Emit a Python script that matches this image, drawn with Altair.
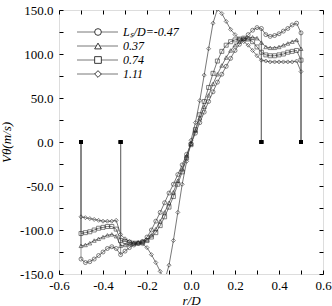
import altair as alt
import pandas as pd

# ---------------- data ----------------
x_grid = [-0.50, -0.48, -0.46, -0.44, -0.42, -0.40, -0.38, -0.36, -0.34, -0.32,
          -0.30, -0.28, -0.26, -0.24, -0.22, -0.20, -0.18, -0.16, -0.14, -0.12,
          -0.10, -0.08, -0.06, -0.04, -0.02, 0.00, 0.02, 0.04, 0.06, 0.08,
          0.10, 0.12, 0.14, 0.16, 0.18, 0.20, 0.22, 0.24, 0.26, 0.28,
          0.30, 0.32, 0.34, 0.36, 0.38, 0.40, 0.42, 0.44, 0.46, 0.48, 0.50]

v_circle = [-133, -137, -136, -133, -129, -125, -121, -119, -121, -128,
            -124, -120, -117, -115, -113, -108, -100, -90, -80, -69,
            -58, -48, -37, -26, -14, -2, 10, 22, 34, 46,
            57, 68, 77, 86, 95, 104, 111, 117, 122, 127,
            130, 129, 122, 120, 121, 123, 126, 129, 133, 135, 124]

v_triangle = [-118, -117, -115, -112, -110, -108, -106, -105, -107, -118,
              -117, -116, -115, -114, -113, -111, -106, -99, -90, -80,
              -69, -57, -44, -31, -16, -2, 13, 27, 40, 53,
              66, 77, 87, 96, 104, 110, 114, 117, 118, 119,
              118, 113, 108, 107, 107, 108, 110, 112, 114, 116, 106]

v_square = [-104, -103, -102, -100, -98, -97, -96, -96, -99, -112,
            -113, -114, -115, -115, -114, -112, -108, -103, -95, -85,
            -74, -62, -48, -34, -18, -3, 14, 31, 46, 62,
            78, 92, 103, 110, 114, 116, 117, 118, 117, 114,
            108, 102, 99, 98, 98, 99, 100, 102, 103, 104, 93]

v_diamond = [-85, -86, -87, -88, -89, -90, -90, -90, -89, -105,
             -110, -113, -115, -115, -116, -120, -128, -137, -147, -158,
             -140, -112, -80, -48, -22, 2, 22, 47, 76, 106,
             135, 151, 146, 137, 128, 122, 117, 114, 110, 104,
             98, 93, 92, 91, 91, 91, 91, 91, 91, 92, 80]

labels = ["Lₛ/D=-0.47", "0.37", "0.74", "1.11"]
shapes = ["circle", "triangle-up", "square", "diamond"]
series_vals = [v_circle, v_triangle, v_square, v_diamond]

walls = [-0.50, -0.32, 0.32, 0.50]

x_label_vals = [-0.6, -0.4, -0.2, 0.0, 0.2, 0.4, 0.6]
x_tick_vals = [-0.6, -0.5, -0.4, -0.3, -0.2, -0.1, 0.0, 0.1, 0.2, 0.3, 0.4, 0.5, 0.6]
y_label_vals = [-150, -100, -50, 0, 50, 100, 150]
y_tick_vals = [-150, -125, -100, -75, -50, -25, 0, 25, 50, 75, 100, 125, 150]

# ---------------- tables ----------------
rows = []
for lab, vals in zip(labels, series_vals):
    for xx, vv in zip(x_grid, vals):
        rows.append({"x": xx, "v": vv, "series": lab})
df = pd.DataFrame(rows)

wall_rows = []
for lab, vals in zip(labels, series_vals):
    for w in walls:
        idx = min(range(len(x_grid)), key=lambda i: abs(x_grid[i] - w))
        wall_rows.append({"x": w, "v": vals[idx], "zero": 0, "series": lab})
df_walls = pd.DataFrame(wall_rows)

df_leg = pd.DataFrame({"label": labels, "row": list(range(len(labels)))})

FONT = "Times New Roman, Liberation Serif, Times, serif"
XDOM = [-0.6, 0.6]
YDOM = [-150, 150]
lab_expr = "replace(format(datum.value, '.1f'), '\u2212', '-')"


def xs(axis):
    return alt.X("x:Q", scale=alt.Scale(domain=XDOM, nice=False, zero=False), axis=axis)


def ys(axis, field="v:Q"):
    return alt.Y(field, scale=alt.Scale(domain=YDOM, nice=False, zero=False), axis=axis)


main_x_axis = alt.Axis(values=x_label_vals, labelExpr=lab_expr, ticks=False, domain=False,
                       grid=False, labelPadding=5, labelFont=FONT, labelFontSize=13,
                       labelColor="black", title="r/D", titleFont=FONT, titleFontSize=13,
                       titleFontStyle="italic", titleFontWeight="normal", titleColor="black",
                       titlePadding=2, labelFlush=False)
main_y_axis = alt.Axis(values=y_label_vals, labelExpr=lab_expr, ticks=False, domain=False,
                       grid=False, labelPadding=6, labelFont=FONT, labelFontSize=13,
                       labelColor="black", title="Vθ(m/s)", titleFont=FONT, titleFontSize=13,
                       titleFontStyle="italic", titleFontWeight="normal", titleColor="black",
                       titlePadding=6, labelFlush=False)

lines = alt.Chart(df).mark_line(color="#555555", strokeWidth=0.8, clip=True).encode(
    x=xs(main_x_axis), y=ys(main_y_axis), detail="series:N")

points = alt.Chart(df).mark_point(filled=False, strokeWidth=0.8, size=16, color="#222222",
                                  clip=True).encode(
    x=xs(main_x_axis), y=ys(main_y_axis),
    shape=alt.Shape("series:N", scale=alt.Scale(domain=labels, range=shapes), legend=None))

wall_rules = alt.Chart(df_walls).mark_rule(color="#777777", strokeWidth=0.8).encode(
    x=xs(main_x_axis), y=ys(main_y_axis), y2="zero:Q")

wall_pts = alt.Chart(df_walls).mark_square(color="black", size=14, opacity=1).encode(
    x=xs(main_x_axis), y=ys(main_y_axis, "zero:Q"))

main = alt.layer(wall_rules, lines, points, wall_pts)


def tick_axis(orient, vals):
    return alt.Axis(orient=orient, offset=-4, tickSize=4, values=vals, labels=False,
                    domain=False, grid=False, title=None, tickColor="black", tickWidth=1)


ticks_bl = alt.Chart(df).mark_point(opacity=0).encode(
    x=xs(tick_axis("bottom", x_tick_vals)), y=ys(tick_axis("left", y_tick_vals)))
ticks_tr = alt.Chart(df).mark_point(opacity=0).encode(
    x=xs(tick_axis("top", x_tick_vals)), y=ys(tick_axis("right", y_tick_vals)))

leg_y = alt.Y("row:Q", scale=alt.Scale(domain=[0, 3], range=[22, 64]), axis=None)
leg_line = alt.Chart(df_leg).mark_rule(color="#555555", strokeWidth=0.8).encode(
    x=alt.value(18), x2=alt.value(59), y=leg_y)
leg_pts = alt.Chart(df_leg).mark_point(filled=True, fill="white", stroke="#222222",
                                       strokeWidth=0.9, size=45, opacity=1).encode(
    x=alt.value(39), y=leg_y,
    shape=alt.Shape("label:N", scale=alt.Scale(domain=labels, range=shapes), legend=None))
leg_txt = alt.Chart(df_leg).mark_text(align="left", baseline="middle", font=FONT, fontSize=12,
                                      fontStyle="italic", color="black").encode(
    x=alt.value(64), y=leg_y, text="label:N")
legend = alt.layer(leg_line, leg_pts, leg_txt)

chart = alt.layer(main, ticks_bl, ticks_tr, legend).resolve_scale(
    x="independent", y="independent", shape="independent"
).resolve_axis(x="independent", y="independent").properties(
    width=264, height=264,
    autosize=alt.AutoSizeParams(type="none"),
    padding={"left": 59, "top": 10, "right": 9, "bottom": 32},
).configure_view(stroke="black", strokeWidth=1).configure(background="white")

chart.save("out.html", embed_options={"renderer": "svg", "actions": False})
